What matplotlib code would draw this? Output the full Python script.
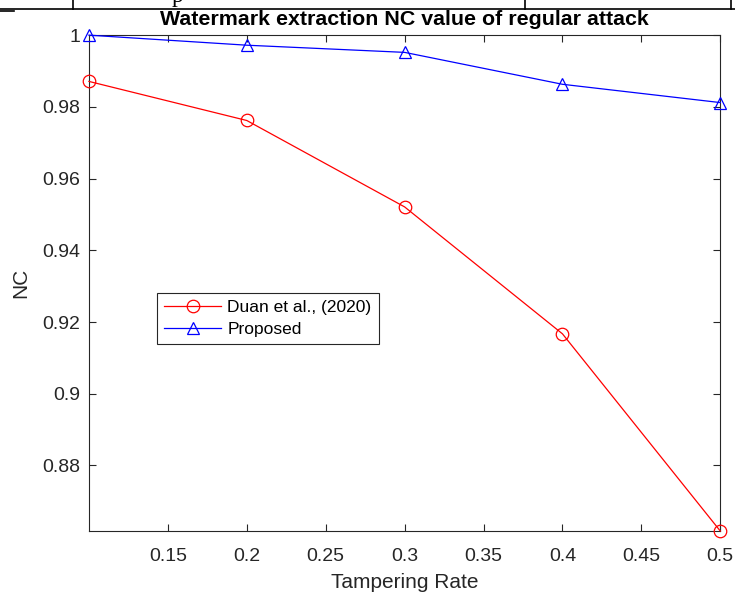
import numpy as np
import matplotlib.pyplot as plt
from matplotlib.lines import Line2D

plt.rcParams['font.family'] = ['Liberation Sans', 'DejaVu Sans']

rate = [0.1, 0.2, 0.3, 0.4, 0.5]
nc_duan = [0.9871, 0.9762, 0.9521, 0.9167, 0.8617]
nc_proposed = [1.0, 0.9972, 0.9952, 0.9863, 0.9812]

xticks = [0.15, 0.2, 0.25, 0.3, 0.35, 0.4, 0.45, 0.5]
xlabels = ['0.15', '0.2', '0.25', '0.3', '0.35', '0.4', '0.45', '0.5']
yticks = [0.88, 0.9, 0.92, 0.94, 0.96, 0.98, 1.0]
ylabels = ['0.88', '0.9', '0.92', '0.94', '0.96', '0.98', '1']

fig = plt.figure(figsize=(7.35, 5.96), dpi=100)
ax = fig.add_axes([0.121, 0.109, 0.859, 0.832])

ax.plot(rate, nc_duan, color='#ff0000', marker='o', mfc='none', ms=9,
        lw=0.9, mew=0.9, label='Duan et al., (2020)', clip_on=False, zorder=3)
ax.plot(rate, nc_proposed, color='#0000ff', marker='^', mfc='none', ms=9,
        lw=0.9, mew=0.9, label='Proposed', clip_on=False, zorder=3)

ax.set_xlim(0.1, 0.5)
ax.set_ylim(min(nc_duan), 1.0)
ax.set_xticks(xticks)
ax.set_xticklabels(xlabels)
ax.set_yticks(yticks)
ax.set_yticklabels(ylabels)

gray = '#262626'
for s in ax.spines.values():
    s.set_color(gray)
    s.set_linewidth(0.8)
ax.tick_params(direction='in', top=True, right=True, length=5, width=0.8,
               colors=gray, labelsize=14)
ax.tick_params(axis='x', pad=12)
ax.tick_params(axis='y', pad=6)

ax.set_title('Watermark extraction NC value of regular attack',
             fontsize=15.4, fontweight='bold', pad=7)
ax.set_xlabel('Tampering Rate', fontsize=15, color=gray, labelpad=6)
ax.set_ylabel('NC', fontsize=15, color=gray, labelpad=9)

leg = ax.legend(loc='upper left', bbox_to_anchor=(0.108, 0.48), borderaxespad=0,
                fancybox=False, edgecolor=gray, fontsize=12.5, handlelength=3.3,
                handletextpad=0.35, framealpha=1, borderpad=0.4, labelspacing=0.4)
leg.get_frame().set_linewidth(0.8)

# table borders from the page above the figure
fig.add_artist(Line2D([0, 1], [1 - 9 / 596, 1 - 9 / 596], color='k', lw=1.2))
fig.add_artist(Line2D([0, 14 / 735], [1 - 11 / 596, 1 - 11 / 596], color='k', lw=1.2))
for xp in [73, 525, 731]:
    fig.add_artist(Line2D([xp / 735, xp / 735], [1 - 9 / 596, 1], color='k', lw=1.2))
fig.text(172 / 735, 1 - 2 / 596, 'p', family='Liberation Serif', fontsize=17,
         va='baseline', ha='left')

fig.savefig('out.png', dpi=100)
